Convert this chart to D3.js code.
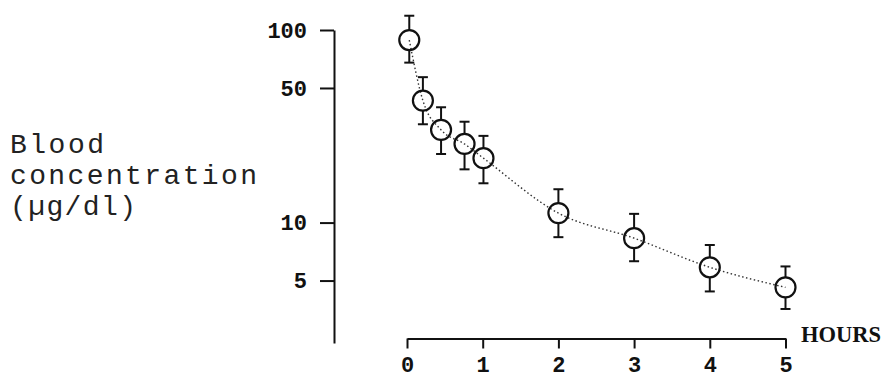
<!DOCTYPE html>
<html>
<head>
<meta charset="utf-8">
<script src="https://cdn.jsdelivr.net/npm/d3@7"></script>
<style>
    body { margin: 0; background: #fff; }
    svg { display: block; }
</style>
</head>
<body>
<div id="chart"></div>
<script>
var hours = [0.03, 0.21, 0.45, 0.76, 1.01, 2, 3, 4, 5];
var means = [88.7, 43.0, 30.3, 25.6, 21.6, 11.2, 8.3, 5.86, 4.61];
var upper = [118.6, 56.9, 39.7, 33.4, 28.2, 14.9, 11.1, 7.65, 5.92];
var lower = [67.7, 32.4, 22.7, 18.9, 16.0, 8.4, 6.3, 4.39, 3.56];
var yTicks = [5, 10, 50, 100];
var xTicks = [0, 1, 2, 3, 4, 5];
var yLabelLines = ["Blood", "concentration", "(\u00b5g/dl)"];
var xLabel = "HOURS";

var width = 882;
var height = 380;
var tickFont = "'Liberation Mono', 'Courier New', monospace";

var points = hours.map((h, i) => ({ h: h, m: means[i], hi: upper[i], lo: lower[i] }));

var svg = d3.select("#chart")
    .append("svg")
    .attr("width", width)
    .attr("height", height);

var x = d3.scaleLinear().domain([0, 5]).range([407, 785.5]);
var y = d3.scaleLog().domain([2.37, 100]).range([343, 30]);

// y axis, ticks pointing left, no outer tick
var yAxis = svg.append("g")
    .attr("transform", "translate(334,0)")
    .call(d3.axisLeft(y).tickValues(yTicks).tickFormat(d3.format("d"))
        .tickSize(14).tickSizeOuter(0).tickPadding(13));

var xAxis = svg.append("g")
    .attr("transform", "translate(0,338.5)")
    .call(d3.axisBottom(x).tickValues(xTicks).tickFormat(d3.format("d"))
        .tickSize(10).tickSizeOuter(0).tickPadding(8));

[yAxis, xAxis].forEach(function (ax) {
    ax.select(".domain").attr("stroke", "#111").attr("stroke-width", 2);
    ax.selectAll(".tick line").attr("stroke", "#111").attr("stroke-width", 2);
    ax.selectAll(".tick text")
        .attr("fill", "#111")
        .style("font-family", tickFont)
        .style("font-weight", "bold")
        .style("font-size", "22px");
});

svg.append("text")
    .attr("x", 801)
    .attr("y", 341.5)
    .style("font-family", "'Liberation Serif', serif")
    .style("font-weight", "bold")
    .style("font-size", "22.5px")
    .attr("fill", "#111")
    .text(xLabel);

var labelLengths = [94, 247, 126];
var labelBase = [153, 184, 215];
svg.append("g")
    .selectAll("text")
    .data(yLabelLines)
    .enter().append("text")
    .attr("x", 10)
    .attr("y", (d, i) => labelBase[i])
    .attr("textLength", (d, i) => labelLengths[i])
    .attr("lengthAdjust", "spacing")
    .style("font-family", tickFont)
    .style("font-size", "28px")
    .attr("fill", "#222")
    .text(d => d);

// dotted curve through the means
var line = d3.line()
    .x(d => x(d.h))
    .y(d => y(d.m))
    .curve(d3.curveMonotoneX);

svg.append("path")
    .datum(points)
    .attr("d", line)
    .attr("fill", "none")
    .attr("stroke", "#333")
    .attr("stroke-width", 1.4)
    .attr("stroke-dasharray", "1.5,2.5");

var bars = svg.append("g")
    .attr("stroke", "#111")
    .attr("stroke-width", 2)
    .selectAll("g")
    .data(points)
    .enter().append("g");

bars.append("line")
    .attr("x1", d => x(d.h)).attr("x2", d => x(d.h))
    .attr("y1", d => y(d.hi)).attr("y2", d => y(d.m) - 10);
bars.append("line")
    .attr("x1", d => x(d.h)).attr("x2", d => x(d.h))
    .attr("y1", d => y(d.m) + 10).attr("y2", d => y(d.lo));
bars.append("line")
    .attr("x1", d => x(d.h) - 5).attr("x2", d => x(d.h) + 5)
    .attr("y1", d => y(d.hi)).attr("y2", d => y(d.hi));
bars.append("line")
    .attr("x1", d => x(d.h) - 5).attr("x2", d => x(d.h) + 5)
    .attr("y1", d => y(d.lo)).attr("y2", d => y(d.lo));

svg.append("g")
    .selectAll("circle")
    .data(points)
    .enter().append("circle")
    .attr("cx", d => x(d.h))
    .attr("cy", d => y(d.m))
    .attr("r", 10)
    .attr("fill", "none")
    .attr("stroke", "#111")
    .attr("stroke-width", 2.2);
</script>
</body>
</html>
